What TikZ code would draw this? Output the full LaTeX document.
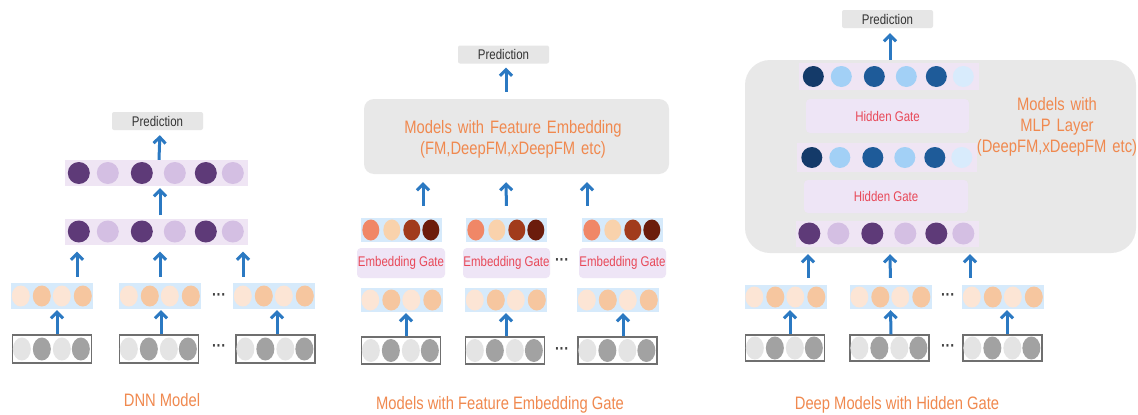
\documentclass[tikz,border=0pt]{standalone}
\usepackage{fontspec}
\setmainfont[FakeStretch=0.82]{Liberation Sans}
\usetikzlibrary{arrows.meta}
\definecolor{arrblue}{RGB}{43,121,194}
\definecolor{predgray}{RGB}{230,230,230}
\definecolor{boxgray}{RGB}{232,232,232}
\definecolor{lavrow}{RGB}{239,229,244}
\definecolor{gatebg}{RGB}{238,229,246}
\definecolor{gatered}{RGB}{232,72,88}
\definecolor{labor}{RGB}{240,137,79}
\definecolor{bluebg}{RGB}{214,234,251}
\definecolor{peachL}{RGB}{252,229,213}
\definecolor{peachD}{RGB}{246,198,159}
\definecolor{greyL}{RGB}{228,228,228}
\definecolor{greyD}{RGB}{162,162,162}
\definecolor{greyB}{RGB}{111,111,111}
\definecolor{purD}{RGB}{94,58,120}
\definecolor{purL}{RGB}{212,191,227}
\definecolor{navy}{RGB}{20,58,105}
\definecolor{sky}{RGB}{162,208,246}
\definecolor{midb}{RGB}{30,91,153}
\definecolor{pale}{RGB}{216,235,252}
\definecolor{salmon}{RGB}{240,135,103}
\definecolor{peachT}{RGB}{249,210,172}
\definecolor{rust}{RGB}{161,59,28}
\definecolor{brownd}{RGB}{107,28,12}
\tikzset{
  arr/.style={draw=arrblue, line width=3pt, -{Straight Barb[length=6pt,width=12pt]}},
  predbox/.style={fill=predgray, rounded corners=2pt, minimum width=91pt, minimum height=18pt, inner sep=0pt, text=black!80, font=\fontsize{14}{16}\selectfont},
  gatebox/.style={fill=gatebg, rounded corners=4pt, inner sep=0pt, text=gatered, font=\fontsize{14}{16}\selectfont},
  bigbox/.style={fill=boxgray, inner sep=0pt},
  label/.style={text=labor, font=\fontsize{18}{21}\selectfont, align=center, inner sep=0pt},
  dotsnode/.style={inner sep=0pt, font=\fontsize{17}{17}\selectfont\bfseries, text=black!75},
}
% embedding row (light blue, peach ovals)
\newcommand\embrow[4]{%
  \node[fill=bluebg, minimum width=82pt, minimum height=#4, inner sep=0pt] (#1) at (#2,#3) {};
  \foreach \o/\c in {10/peachL,31/peachD,51/peachL,72/peachD}
    \fill[\c] ([xshift=\o pt]#1.west) ellipse [x radius=9pt, y radius=10.5pt];}
% input row (grey outline, grey ovals)
\newcommand\inrow[4]{%
  \node[draw=greyB, line width=1.3pt, fill=white, minimum width=79pt, minimum height=#4, inner sep=0pt] (#1) at (#2,#3) {};
  \foreach \o/\c in {10/greyL,30/greyD,50/greyL,69/greyD}
    \fill[\c] ([xshift=\o pt]#1.west) ellipse [x radius=9pt, y radius=11.5pt];}
% purple hidden row
\newcommand\prow[3]{%
  \node[fill=lavrow, minimum width=183pt, minimum height=26pt, inner sep=0pt] (#1) at (#2,#3) {};
  \foreach \o/\c in {14/purD,43/purL,77/purD,110/purL,141/purD,168/purL}
    \fill[\c] ([xshift=\o pt]#1.west) circle [radius=11pt];}
% blue hidden row
\newcommand\brow[4]{%
  \node[fill=lavrow, minimum width=180pt, minimum height=#4, inner sep=0pt] (#1) at (#2,#3) {};
  \foreach \o/\c in {15/navy,43/sky,76/midb,108/sky,138/midb,165/pale}
    \fill[\c] ([xshift=\o pt]#1.west) circle [radius=10.5pt];}
% gated embedding output row
\newcommand\orow[3]{%
  \node[fill=bluebg, minimum width=81pt, minimum height=24pt, inner sep=0pt] (#1) at (#2,#3) {};
  \foreach \o/\c in {10/salmon,31/peachT,51/rust,70/brownd}
    \fill[\c] ([xshift=\o pt]#1.west) ellipse [x radius=8.5pt, y radius=10.5pt];}
\begin{document}
\begin{tikzpicture}[x=1pt,y=-1pt]
\useasboundingbox[fill=white] (0,0) rectangle (1138,415);

%================ Panel 1: DNN Model
\node[predbox] (p1pred) at (157.5,121) {Prediction};
\prow{p1h2}{156.5}{173}
\prow{p1h1}{156.5}{231.5}
\embrow{p1e1}{52}{296}{26pt}
\embrow{p1e2}{160}{296}{26pt}
\embrow{p1e3}{274}{296}{26pt}
\inrow{p1i1}{52}{349}{28pt}
\inrow{p1i2}{159}{349}{28pt}
\inrow{p1i3}{275.5}{349}{28pt}
\node[dotsnode] (p1d1) at (219,297) {···};
\node[dotsnode] (p1d2) at (219,348) {···};
\draw[arr, shorten >=5pt] ([xshift=2.5pt]p1h2.north) -- ([xshift=2.5pt]p1pred.south);
\draw[arr, shorten <=3pt, shorten >=2pt] ([xshift=3.5pt]p1h1.north) -- ([xshift=3.5pt]p1h2.south);
\draw[arr, shorten <=6pt, shorten >=7pt] ([xshift=25pt]p1e1.north) -- ([xshift=-79.5pt]p1h1.south);
\draw[arr, shorten <=6pt, shorten >=7pt] (p1e2.north) -- ([xshift=3.5pt]p1h1.south);
\draw[arr, shorten <=6pt, shorten >=7pt] ([xshift=-31pt]p1e3.north) -- ([xshift=86.5pt]p1h1.south);
\draw[arr, shorten >=1pt] ([xshift=5pt]p1i1.north) -- ([xshift=5pt]p1e1.south);
\draw[arr, shorten >=1pt] ([xshift=2pt]p1i2.north) -- ([xshift=1pt]p1e2.south);
\draw[arr, shorten >=1pt] ([xshift=1.5pt]p1i3.north) -- ([xshift=3pt]p1e3.south);
\node[label] (p1lab) at (162,400) {DNN Model};

%================ Panel 2: Feature Embedding Gate
\node[predbox] (p2pred) at (503.5,54.5) {Prediction};
\node[bigbox, rounded corners=10pt, minimum width=305pt, minimum height=75pt] (p2big) at (516.5,136.5) {};
\node[label, text width=300pt] (p2title) at (513,139) {Models with Feature Embedding\\(FM,DeepFM,xDeepFM etc)};
\orow{p2o1}{401.5}{230}
\orow{p2o2}{506.5}{230}
\orow{p2o3}{622.5}{230}
\node[gatebox, minimum width=88pt, minimum height=30pt] (p2g1) at (401,263) {Embedding Gate};
\node[gatebox, minimum width=87pt, minimum height=30pt] (p2g2) at (506.5,263) {Embedding Gate};
\node[gatebox, minimum width=87pt, minimum height=30pt] (p2g3) at (622.5,263) {Embedding Gate};
\embrow{p2e1}{401.5}{300}{24pt}
\embrow{p2e2}{506}{300}{24pt}
\embrow{p2e3}{618}{300}{24pt}
\inrow{p2i1}{401}{350.5}{27pt}
\inrow{p2i2}{505}{350.5}{27pt}
\inrow{p2i3}{617.5}{350.5}{27pt}
\node[dotsnode] (p2d1) at (562,262) {···};
\node[dotsnode] (p2d2) at (562,351) {···};
\draw[arr, shorten <=7pt, shorten >=4pt] ([xshift=-10.5pt]p2big.north) -- ([xshift=2.5pt]p2pred.south);
\draw[arr, shorten <=12pt, shorten >=8pt] ([xshift=21.5pt]p2o1.north) -- ([xshift=-93.5pt]p2big.south);
\draw[arr, shorten <=12pt, shorten >=8pt] (p2o2.north) -- ([xshift=-10.5pt]p2big.south);
\draw[arr, shorten <=12pt, shorten >=8pt] ([xshift=-35.5pt]p2o3.north) -- ([xshift=70.5pt]p2big.south);
\draw[arr, shorten >=1pt] ([xshift=5pt]p2i1.north) -- ([xshift=4.5pt]p2e1.south);
\draw[arr, shorten >=1pt] ([xshift=1pt]p2i2.north) -- (p2e2.south);
\draw[arr, shorten >=1pt] ([xshift=5.5pt]p2i3.north) -- ([xshift=5pt]p2e3.south);
\node[label] (p2lab) at (500,405) {Models with Feature Embedding Gate};

%================ Panel 3: Hidden Gate
\node[predbox] (p3pred) at (887.5,19) {Prediction};
\node[bigbox, rounded corners=25pt, minimum width=391pt, minimum height=193pt] (p3big) at (940.5,156.5) {};
\brow{p3h3}{888.5}{76.5}{27pt}
\node[gatebox, minimum width=163pt, minimum height=34pt] (p3g2) at (887.5,116) {Hidden Gate};
\brow{p3h2}{887}{157.5}{29pt}
\node[gatebox, minimum width=164pt, minimum height=33pt] (p3g1) at (886,196.5) {Hidden Gate};
\prow{p3h1}{887}{233.5}
\node[label, text width=170pt] (p3title) at (1057,127) {Models with\\MLP Layer\\(DeepFM,xDeepFM etc)};
\embrow{p3e1}{785.5}{297}{24pt}
\embrow{p3e2}{890.5}{297}{24pt}
\embrow{p3e3}{1003}{297}{24pt}
\inrow{p3i1}{785}{348}{26pt}
\inrow{p3i2}{889.5}{348}{26pt}
\inrow{p3i3}{1002.5}{348}{26pt}
\node[dotsnode] (p3d1) at (948,297) {···};
\node[dotsnode] (p3d2) at (948,348) {···};
\draw[arr, shorten <=3pt, shorten >=5pt] ([xshift=1.5pt]p3h3.north) -- ([xshift=2.5pt]p3pred.south);
\draw[arr, shorten <=7pt, shorten >=1pt] ([xshift=22.5pt]p3e1.north) -- ([xshift=-132.5pt]p3big.south);
\draw[arr, shorten <=7pt, shorten >=1pt] (p3e2.north) -- ([xshift=-50.5pt]p3big.south);
\draw[arr, shorten <=7pt, shorten >=1pt] ([xshift=-33pt]p3e3.north) -- ([xshift=29.5pt]p3big.south);
\draw[arr, shorten >=1pt] ([xshift=5pt]p3i1.north) -- ([xshift=4.5pt]p3e1.south);
\draw[arr, shorten >=1pt] ([xshift=1.5pt]p3i2.north) -- (p3e2.south);
\draw[arr, shorten >=1pt] ([xshift=4.5pt]p3i3.north) -- ([xshift=4pt]p3e3.south);
\node[label] (p3lab) at (897,405) {Deep Models with Hidden Gate};
\end{tikzpicture}
\end{document}
